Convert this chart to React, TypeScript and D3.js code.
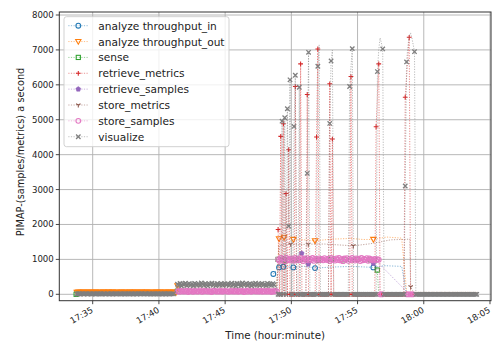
import React from "react";
import * as d3 from "d3";

// ---------- data (time in minutes after 17:00) ----------
type Pt = [number, number | null, number]; // [minute, value, marked(1)/not(0)]

const SAMPLE_STEP = 0.1; // 6-second sampling clock of the dense monitors

const xTickMinutes = [35, 40, 45, 50, 55, 60, 65];
const yTickValues = [0, 1000, 2000, 3000, 4000, 5000, 6000, 7000, 8000];

// visualize (dense samples) ---------------------------------------------
const visualizeP1 = [
  12, 8, 15, 10, 20, 6, 14, 18, 9, 11, 16, 7, 13, 19, 10, 8, 15, 12, 17, 9, 14, 11, 6, 18, 13, 10, 16, 8, 12, 15, 9, 14, 11, 17, 10, 13, 8, 15,
  11, 14, 9, 17, 12, 7, 16, 10, 13, 19, 8, 15, 11, 14, 18, 9, 12, 16, 10, 13, 7, 15, 11, 17, 9, 14, 12, 8, 16, 10, 13, 15, 9, 12, 11, 14,
];
const visualizeP2 = [
  290, 260, 310, 240, 300, 275, 320, 250, 285, 305, 265, 295, 245, 315, 280, 270, 300, 255, 325, 290, 260, 310, 275, 240, 300, 285, 320, 265, 295, 250, 305, 280, 270, 315, 260, 290, 300, 275,
  305, 255, 285, 320, 265, 295, 240, 310, 280, 300, 250, 325, 270, 290, 315, 260, 285, 305, 245, 295, 275, 320, 265, 300, 255, 290, 310, 270, 285, 250, 315, 280, 295, 260, 305, 275,
];
const visualizeP3 = [
  0, 0, 0, 4960, 0, 5057, 0, 5314, 1951, 6143,
  0, 0, 4809, 6274, 0, 0, 5931, 0, 0, 0,
  0, 0, 3466, 6931, 0, 0, 0, 0, 0, 0,
  6531, 7143, 0, 0, 0, 0, 0, 0, 0, 4894,
  6686, 6990, 0, 0, 0, 0, 0, 0, 0, 0,
  0, 0, 0, 0, 5951, 6500, 7037, 0, 0, 0,
  0, 0, 0, 0, 0, 0, 0, 0, 0, 0,
  0, 0, 0, 0, 0, 6380, 7000, 7343, 7200, 7029,
  0, 0, 0, 0, 0, 0, 0, 0, 0, 0,
  0, 0, 0, 0, 0, 0, 3103, 6657, 7100, 7400,
  7486, 7350, 7150, 6951, 0, 0, 0, 0, 0, 0,
  0, 0, 0, 0, 0, 0, 0, 0, 0, 0,
  0, 0, 0, 0, 0, 0, 0, 0, 0, 0,
  0, 0, 0, 0, 0, 0, 0, 0, 0, 0,
  0, 0, 0, 0, 0, 0, 0, 0, 0, 0,
  0,
];
const visualizeP3Unmarked = [31, 41, 55, 76, 77, 78, 98, 99, 100, 101, 102];

// retrieve_metrics --------------------------------------------------------
const retrieveMetricsP3 = [
  1857, 0, 4523, 0, 4886, 0, 2886, 0, 4143, 0,
  0, 0, 0, 5951, 0, 0, 0, 6600, 0, 0,
  0, 0, 5723, 0, 0, 0, 0, 0, 0, 4503,
  7029, 0, 0, 0, 0, 0, 0, 0, 0, 6029,
  0, 4446, 0, 0, 0, 0, 0, 0, 0, 0,
  0, 0, 0, 0, 0, 6237, 0, 0, 0, 0,
  0, 0, 0, 0, 0, 0, 0, 0, 0, 0,
  0, 0, 0, 0, 4800, 5700, 6600, 0, 0, 0,
  0, 0, 0, 0, 0, 0, 0, 0, 0, 0,
  0, 0, 0, 0, 0, 0, 5646, 6200, 6800, 7360,
  0, 0,
];
const retrieveMetricsP3Unmarked = [75, 97, 98];

// store_samples -----------------------------------------------------------
const storeSamplesP2 = [
  80, 95, 70, 100, 85, 75, 90, 105, 65, 85, 95, 80, 70, 100, 90, 75, 85, 110, 80, 70, 95, 85, 100, 75, 90, 80, 65, 95, 105, 85, 75, 90, 80, 100, 70, 85, 95, 80,
  85, 70, 100, 90, 75, 95, 80, 105, 70, 90, 85, 100, 65, 80, 95, 75, 110, 85, 70, 100, 90, 80, 95, 75, 85, 105, 70, 90, 80, 100, 75, 95, 85, 65, 90, 80, 100, 85,
];
const storeSamplesP3 = [
  1000, 960, 1040, 980, 1020, 950, 1050, 990, 1010, 970, 1030, 1000, 960, 1040, 985, 1015, 975, 1045, 1000, 955, 1025, 990, 1035, 970, 1010, 980, 1040, 960, 1020, 1000, 965, 1030, 990, 1015, 975, 1035, 1000, 980,
  1020, 955, 1045, 990, 1010, 965, 1030, 985, 1040, 970, 1005, 950, 1025, 995, 1035, 960, 1015, 980, 1045, 1000, 965, 1030, 990, 1020, 955, 1040, 975, 1010, 985, 1035, 960, 1025, 995, 1000, 970, 1015, 980, 1005, 990,
  0, 0, 0,
  null, null, null, null, null, null, null, null, null, null, null, null, null, null, null, null, null,
  0, 0, 0, 0, 0, 0,
];

// analyze throughput_out --------------------------------------------------
const throughputOutP1 = [
  55, 60, 52, 58, 56, 62, 54, 57, 59, 53, 61, 55, 58, 56, 60, 54, 57, 52, 59, 55, 61, 56, 58, 53, 60, 57, 55, 62, 54, 58, 56, 59, 53, 57, 60, 55, 58, 56,
  57, 54, 60, 56, 58, 53, 61, 55, 59, 57, 52, 60, 56, 58, 54, 62, 55, 57, 59, 53, 58, 56, 61, 54, 57, 60, 55, 58, 53, 59, 56, 62, 54, 57, 55, 60, 58, 56,
];
const throughputOutRest: Pt[] = [
  [41.4, 245, 1], [44, 255, 0], [47, 250, 0], [48.9, 260, 0],
  [49.07, 1589, 1], [49.45, 1629, 1], [50.15, 1571, 1], [51.0, 1560, 0], [51.79, 1531, 1],
  [53.0, 1580, 0], [54.5, 1600, 0], [55.4, 1570, 0], [56.19, 1571, 1], [57.2, 1640, 0],
  [58.33, 1610, 0], [58.71, 55, 0], [64.09, 55, 0],
];

// analyze throughput_in ---------------------------------------------------
const throughputIn: Pt[] = [
  [48.64, 582, 1], [49.07, 771, 1], [49.39, 789, 1], [49.7, 790, 0], [50.15, 771, 1], [51.0, 800, 0],
  [51.79, 751, 1], [53.0, 780, 0], [54.6, 800, 0], [56.19, 771, 1], [57.0, 820, 0],
  [58.33, 800, 0], [58.71, 20, 0], [64.0, 20, 0],
];

// sense -------------------------------------------------------------------
const sense: Pt[] = [
  [33.75, 0, 1], [41.3, 0, 0], [41.4, 90, 1], [48.9, 90, 0],
  [49.0, 1000, 1], [49.5, 980, 1], [50.3, 990, 1], [51.0, 1000, 1], [52.0, 970, 1],
  [53.0, 1000, 1], [54.0, 990, 1], [55.0, 1000, 1], [56.0, 985, 1], [56.49, 694, 1],
  [56.6, 0, 0], [64.0, 0, 0],
];

// retrieve_samples --------------------------------------------------------
const retrieveSamples: Pt[] = [
  [49.0, 950, 0], [49.8, 1000, 0], [50.78, 1174, 1], [51.28, 866, 1], [52.5, 980, 0],
  [54.0, 1000, 0], [55.5, 960, 0], [56.19, 888, 1], [56.44, 950, 0], [58.83, 30, 0],
];

// store_metrics -----------------------------------------------------------
const storeMetrics: Pt[] = [
  [41.4, 180, 0], [45.0, 190, 0], [48.9, 185, 0],
  [49.07, 1400, 0], [49.95, 1437, 1], [50.6, 1420, 0], [51.28, 1437, 1], [52.5, 1440, 0],
  [54.68, 1389, 1], [56.0, 1450, 0], [57.5, 1560, 0], [58.95, 1580, 0], [59.01, 217, 1], [59.3, 0, 0],
];

const grid = (t0: number, values: (number | null)[], unmarked: number[] = []): Pt[] =>
  values.map((v, i) => [t0 + i * SAMPLE_STEP, v, unmarked.includes(i) ? 0 : 1] as Pt);

const seriesNames = [
  "analyze throughput_in",
  "analyze throughput_out",
  "sense",
  "retrieve_metrics",
  "retrieve_samples",
  "store_metrics",
  "store_samples",
  "visualize",
];
const seriesColors = ["#1f77b4", "#ff7f0e", "#2ca02c", "#d62728", "#9467bd", "#8c564b", "#e377c2", "#7f7f7f"];
const seriesMarkers = ["o", "v", "s", "+", "p", "1", "o", "x"];

const seriesData: Pt[][] = [
  throughputIn,
  [...grid(33.8, throughputOutP1), ...throughputOutRest],
  sense,
  grid(49.0, retrieveMetricsP3, retrieveMetricsP3Unmarked),
  retrieveSamples,
  storeMetrics,
  [...grid(41.4, storeSamplesP2), ...grid(49.0, storeSamplesP3)],
  [...grid(33.8, visualizeP1), ...grid(41.4, visualizeP2), ...grid(49.0, visualizeP3, visualizeP3Unmarked)],
];

// ---------- layout ----------
const W = 492;
const H = 345;
const PL = 59.3, PR = 491, PT = 12, PB = 300.7;

const fmtMinute = (m: number) => `${17 + Math.floor(m / 60)}:${String(m % 60).padStart(2, "0")}`;

function Marker({ type, color, x, y }: { type: string; color: string; x: number; y: number }) {
  const r = 2.4;
  const sw = 1.05;
  const t = `translate(${x},${y})`;
  switch (type) {
    case "o":
      return <circle transform={t} r={r} fill="none" stroke={color} strokeWidth={sw} />;
    case "v":
      return <path transform={t} d={`M0,${r + 0.3}L${r + 0.3},${-r + 0.3}L${-r - 0.3},${-r + 0.3}Z`} fill="none" stroke={color} strokeWidth={sw} />;
    case "s":
      return <rect transform={t} x={-r + 0.3} y={-r + 0.3} width={2 * r - 0.6} height={2 * r - 0.6} fill="none" stroke={color} strokeWidth={sw} />;
    case "+":
      return <path transform={t} d={`M${-r},0H${r}M0,${-r}V${r}`} stroke={color} strokeWidth={sw} />;
    case "x": {
      const a = r * 0.92;
      return <path transform={t} d={`M${-a},${-a}L${a},${a}M${-a},${a}L${a},${-a}`} stroke={color} strokeWidth={1.3} />;
    }
    case "1": {
      const a = r + 0.2;
      return <path transform={t} d={`M0,0V${a}M0,0L${-a * 0.866},${-a * 0.5}M0,0L${a * 0.866},${-a * 0.5}`} stroke={color} strokeWidth={sw} />;
    }
    case "p": {
      const pts = d3.range(5).map((k) => {
        const ang = -Math.PI / 2 + (k * 2 * Math.PI) / 5;
        return `${(r + 0.2) * Math.cos(ang)},${(r + 0.2) * Math.sin(ang)}`;
      });
      return <polygon transform={t} points={pts.join(" ")} fill={color} stroke={color} strokeWidth={0.5} />;
    }
    default:
      return null;
  }
}

export default function App() {
  const x = d3.scaleLinear().domain([32.478, 65.076]).range([PL, PR]);
  const y = d3.scaleLinear().domain([-183, 8086]).range([PB, PT]);

  const line = d3
    .line<Pt>()
    .defined((d) => d[1] !== null)
    .x((d) => x(d[0]))
    .y((d) => y(d[1] as number));

  const font = "DejaVu Sans, sans-serif";

  return (
    <svg width={W} height={H} style={{ position: "absolute", left: 0, top: 0, background: "#fff" }} fontFamily={font}>
      <defs>
        <clipPath id="plotclip">
          <rect x={PL} y={PT} width={PR - PL} height={PB - PT} />
        </clipPath>
      </defs>
      <rect x={0} y={0} width={W} height={H} fill="#fff" />
      {/* grid */}
      <g stroke="#b0b0b0" strokeWidth={0.9}>
        {xTickMinutes.map((m) => (
          <line key={"gx" + m} x1={x(m)} x2={x(m)} y1={PT} y2={PB} />
        ))}
        {yTickValues.map((v) => (
          <line key={"gy" + v} x1={PL} x2={PR} y1={y(v)} y2={y(v)} />
        ))}
      </g>

      {/* series */}
      <g clipPath="url(#plotclip)">
        {seriesData.map((data, si) => (
          <g key={seriesNames[si]}>
            <path
              d={line(data) || ""}
              fill="none"
              stroke={seriesColors[si]}
              strokeWidth={0.9}
              strokeOpacity={0.6}
              strokeDasharray="1.2,1.4"
            />
            {data
              .filter((d) => d[1] !== null && d[2] !== 0)
              .map((d, k) => (
                <Marker key={k} type={seriesMarkers[si]} color={seriesColors[si]} x={x(d[0])} y={y(d[1] as number)} />
              ))}
          </g>
        ))}
      </g>

      {/* spines */}
      <rect x={PL} y={PT} width={PR - PL} height={PB - PT} fill="none" stroke="#333" strokeWidth={1} />

      {/* y ticks */}
      <g fontSize={8.6} fill="#222">
        {yTickValues.map((v) => (
          <g key={"ty" + v}>
            <line x1={PL - 3.5} x2={PL} y1={y(v)} y2={y(v)} stroke="#333" strokeWidth={0.9} />
            <text x={PL - 5.5} y={y(v)} textAnchor="end" dominantBaseline="central">
              {v}
            </text>
          </g>
        ))}
      </g>
      {/* x ticks */}
      <g fontSize={8.6} fill="#222">
        {xTickMinutes.map((m) => (
          <g key={"tx" + m}>
            <line x1={x(m)} x2={x(m)} y1={PB} y2={PB + 3.5} stroke="#333" strokeWidth={0.9} />
            <text
              x={x(m) + 1}
              y={PB + 11}
              textAnchor="end"
              transform={`rotate(-30, ${x(m) + 1}, ${PB + 11})`}
            >
              {fmtMinute(m)}
            </text>
          </g>
        ))}
      </g>

      {/* axis labels */}
      <text x={(PL + PR) / 2} y={339} textAnchor="middle" fontSize={10.3} fill="#222">
        Time (hour:minute)
      </text>
      <text
        transform={`translate(20, 152) rotate(-90)`}
        textAnchor="middle"
        dominantBaseline="central"
        fontSize={9.8}
        fill="#222"
      >
        PIMAP-(samples/metrics) a second
      </text>

      {/* legend */}
      <g>
        <rect x={64} y={16.7} width={165} height={130} rx={2.5} fill="#fff" fillOpacity={0.8} stroke="#cccccc" strokeWidth={0.9} />
        {seriesNames.map((name, i) => {
          const cy = 25.7 + i * 15.86;
          return (
            <g key={"lg" + name}>
              <line x1={68.3} x2={88.3} y1={cy} y2={cy} stroke={seriesColors[i]} strokeWidth={0.9} strokeOpacity={0.55} strokeDasharray="1.2,1.4" />
              <Marker type={seriesMarkers[i]} color={seriesColors[i]} x={78.3} y={cy} />
              <text x={98.3} y={cy} dominantBaseline="central" fontSize={10.6} fill="#222">
                {name}
              </text>
            </g>
          );
        })}
      </g>
    </svg>
  );
}
